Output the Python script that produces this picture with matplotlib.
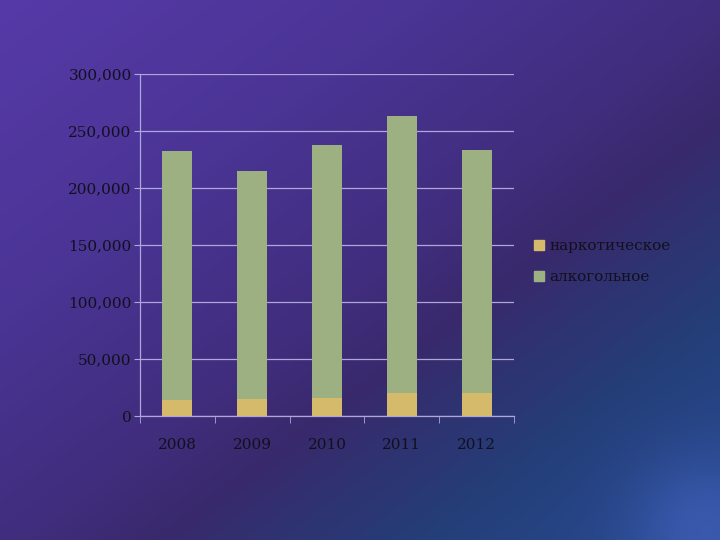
import numpy as np
import matplotlib
matplotlib.use("Agg")
import matplotlib.pyplot as plt
from matplotlib.patches import Patch

years = ['2008', '2009', '2010', '2011', '2012']
narco = [14000, 14500, 15500, 20000, 20000]
alco = [218500, 200500, 222000, 243000, 213000]

green = '#9db082'
yellow = '#d6ba6c'
grid_col = '#aea6dc'
txt_col = '#12101e'

plt.rcParams['font.family'] = ['DejaVu Serif']

fig = plt.figure(figsize=(7.2, 5.4), dpi=100)

# background gradient: purple top-left -> dark purple middle -> blue bottom-right
bg = fig.add_axes([0, 0, 1, 1], zorder=-10)
H, W = 270, 360
yy, xx = np.mgrid[0:H, 0:W]
u = xx / (W - 1)
v = yy / (H - 1)
t = (u * 0.5 + v * 0.5)
stops = np.array([0.0, 0.3, 0.52, 0.61, 0.79, 1.0])
cols = np.array([[86, 58, 168], [74, 52, 148], [64, 45, 124], [57, 41, 108],
                 [36, 62, 120], [40, 74, 146]]) / 255.0
img = np.zeros((H, W, 3))
for c in range(3):
    img[..., c] = np.interp(t, stops, cols[:, c])
glow = np.exp(-(((u - 0.98) / 0.1) ** 2 + ((v - 0.98) / 0.13) ** 2))
img += glow[..., None] * (np.array([66, 96, 186]) / 255.0 - img) * 0.7
bg.imshow(np.clip(img, 0, 1), aspect='auto', extent=[0, 1, 0, 1], origin='upper')
bg.axis('off')

ax = fig.add_axes([0.1944, 0.2296, 0.5195, 0.6334])
ax.patch.set_alpha(0)
x = np.arange(len(years))
ax.bar(x, narco, width=0.4, color=yellow, zorder=3, label='наркотическое')
ax.bar(x, alco, width=0.4, bottom=narco, color=green, zorder=3, label='алкогольное')

ax.set_xlim(-0.5, len(years) - 0.5)
ax.set_ylim(0, 300000)
ax.set_yticks(np.arange(0, 300001, 50000))
ax.set_yticklabels(['{:,}'.format(v) for v in range(0, 300001, 50000)])
ax.yaxis.grid(True, color=grid_col, linewidth=0.9, zorder=0)
ax.set_axisbelow(True)

ax.set_xticks(x)
ax.set_xticklabels(years)
ax.set_xticks(np.arange(-0.5, len(years), 1), minor=True)
ax.tick_params(axis='x', which='major', length=0, pad=16, labelsize=11, labelcolor=txt_col)
ax.tick_params(axis='x', which='minor', length=5, color=grid_col, direction='out')
ax.tick_params(axis='y', length=4, color=grid_col, pad=2, labelsize=11, labelcolor=txt_col)

for s in ['top', 'right']:
    ax.spines[s].set_visible(False)
for s in ['left', 'bottom']:
    ax.spines[s].set_color(grid_col)
    ax.spines[s].set_linewidth(0.9)

handles = [Patch(color=yellow, label='наркотическое'), Patch(color=green, label='алкогольное')]
leg = fig.legend(handles=handles, loc='center left', bbox_to_anchor=(0.722, 0.515),
                 frameon=False, fontsize=11, handlelength=0.7, handleheight=0.7,
                 handletextpad=0.35, labelspacing=1.1)
for tx in leg.get_texts():
    tx.set_color(txt_col)

fig.savefig('out.png', dpi=100)
